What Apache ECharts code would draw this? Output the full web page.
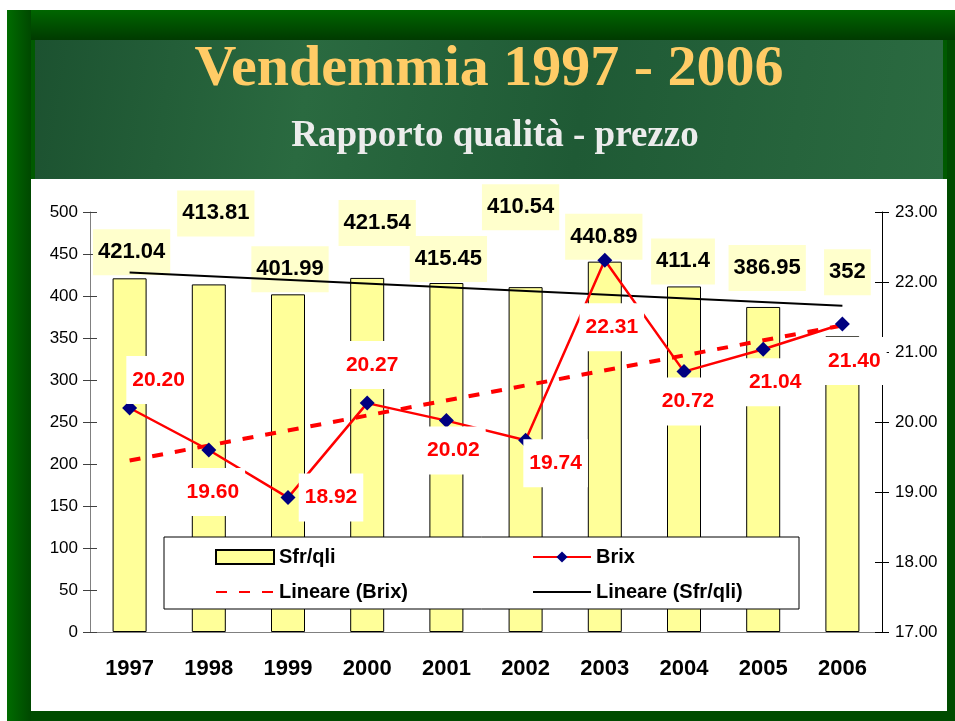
<!DOCTYPE html>
<html>
<head>
<meta charset="utf-8">
<script src="https://cdn.jsdelivr.net/npm/echarts@6/dist/echarts.min.js"></script>
<style>
  html, body { margin: 0; padding: 0; background: #fff; }
  #chart { width: 955px; height: 721px; }
</style>
</head>
<body>
<div id="chart"></div>
<script>
// data
var years = ['1997', '1998', '1999', '2000', '2001', '2002', '2003', '2004', '2005', '2006'];
var sfrQli = [421.04, 413.81, 401.99, 421.54, 415.45, 410.54, 440.89, 411.4, 386.95, 352];
var brix = [20.20, 19.60, 18.92, 20.27, 20.02, 19.74, 22.31, 20.72, 21.04, 21.40];
// trend lines (only end points)
var trendSfr = [428, null, null, null, null, null, null, null, null, 388.5];
var trendBrix = [19.45, null, null, null, null, null, null, null, null, 21.38];

// label placement (manual like in the original sheet)
var sfrLabelOffset = [[2, -3], [7, -48], [2, -2], [10, -32], [2, -1], [-5, -57], [-1, -2], [-1, -2], [4, -16], [5, -41]];
var brixLabelOffset = [[29, -28], [4, 42], [43, 0], [5, -38], [7, 30], [30, 23], [7, 67], [4, 30], [12, 33], [12, 37]];

var chart = echarts.init(document.getElementById('chart'), null, { renderer: 'canvas' });

var sfrData = sfrQli.map(function (v, i) {
  return { value: v, label: { offset: sfrLabelOffset[i] } };
});
var brixData = brix.map(function (v, i) {
  return { value: v, label: { offset: brixLabelOffset[i] } };
});

var font = 'Liberation Sans, Arial, sans-serif';
var legendText = { fontFamily: font, fontSize: 20, fontWeight: 'bold', color: '#000', lineHeight: 20 };

chart.setOption({
  animation: false,
  backgroundColor: '#ffffff',
  graphic: [
    // green frame
    { type: 'rect', z: -10, shape: { x: 7, y: 10, width: 948, height: 711 }, style: { fill: '#005a00' } },
    { type: 'rect', z: -10, shape: { x: 7, y: 10, width: 24, height: 711 },
      style: { fill: new echarts.graphic.LinearGradient(0, 0, 1, 0, [{ offset: 0, color: '#006c00' }, { offset: 1, color: '#004800' }]) } },
    { type: 'rect', z: -10, shape: { x: 31, y: 10, width: 924, height: 30 },
      style: { fill: new echarts.graphic.LinearGradient(0, 0, 0, 1, [{ offset: 0, color: '#006600' }, { offset: 1, color: '#003a00' }]) } },
    { type: 'rect', z: -10, shape: { x: 31, y: 711, width: 924, height: 10 }, style: { fill: '#004c00' } },
    { type: 'rect', z: -10, shape: { x: 947, y: 40, width: 8, height: 681 }, style: { fill: '#004c00' } },
    // marble header
    { type: 'rect', z: -9, shape: { x: 35, y: 40, width: 908, height: 139 },
      style: { fill: new echarts.graphic.LinearGradient(0, 0, 1, 1, [
        { offset: 0, color: '#1c5230' }, { offset: 0.3, color: '#2a6a40' },
        { offset: 0.6, color: '#1f5a35' }, { offset: 1, color: '#2b6b41' }]) } },
    // white chart area
    { type: 'rect', z: -9, shape: { x: 31, y: 179, width: 916, height: 532 }, style: { fill: '#ffffff' } },
    // titles
    { type: 'text', z: -8, x: 489, y: 70,
      style: { text: 'Vendemmia 1997 - 2006', fill: '#ffcc66', align: 'center', verticalAlign: 'middle',
        font: 'bold 58px "Liberation Serif", "Times New Roman", serif' } },
    { type: 'text', z: -8, x: 495, y: 136,
      style: { text: 'Rapporto qualità - prezzo', fill: '#ececec', align: 'center', verticalAlign: 'middle',
        font: 'bold 37px "Liberation Serif", "Times New Roman", serif' } },
    // legend box
    { type: 'rect', z: 3, shape: { x: 164, y: 537, width: 635, height: 72 },
      style: { fill: '#ffffff', stroke: '#000000', lineWidth: 1 } }
  ],
  legend: [
    {
      z: 5, orient: 'vertical', left: 215, top: 547, padding: 0, itemGap: 15,
      itemWidth: 58, itemHeight: 14,
      data: [
        { name: 'Sfr/qli', icon: 'rect' },
        { name: 'Lineare (Brix)', itemStyle: { opacity: 0 } }
      ],
      textStyle: legendText
    },
    {
      z: 5, orient: 'vertical', left: 532, top: 547, padding: 0, itemGap: 15,
      itemWidth: 58, itemHeight: 14,
      data: [
        'Brix',
        { name: 'Lineare (Sfr/qli)', itemStyle: { opacity: 0 } }
      ],
      textStyle: legendText
    }
  ],
  grid: { left: 90, right: 73, top: 212, bottom: 89, outerBoundsMode: 'none' },
  xAxis: [
    {
      type: 'category', data: years,
      axisLine: { lineStyle: { color: '#808080', width: 1 } },
      axisTick: { length: 7, lineStyle: { color: '#404040' } },
      axisLabel: { fontFamily: font, fontSize: 22, fontWeight: 'bold', color: '#000', margin: 26 }
    },
    {
      type: 'category', data: years, position: 'bottom',
      axisLine: { show: false },
      axisTick: { inside: true, length: 7, lineStyle: { color: '#404040' } },
      axisLabel: { show: false }
    }
  ],
  yAxis: [
    {
      type: 'value', min: 0, max: 500, interval: 50, position: 'left',
      splitLine: { show: false },
      axisLine: { show: true, lineStyle: { color: '#808080' } },
      axisTick: { show: true, length: 7, lineStyle: { color: '#404040' } },
      axisLabel: { fontFamily: font, fontSize: 17, color: '#000', margin: 12 }
    },
    {
      type: 'value', min: 17, max: 23, interval: 1, position: 'right',
      splitLine: { show: false },
      axisLine: { show: true, lineStyle: { color: '#000' } },
      axisTick: { show: true, length: 7, lineStyle: { color: '#000' } },
      axisLabel: { fontFamily: font, fontSize: 17, color: '#000', margin: 13,
        formatter: function (v) { return v.toFixed(2); } }
    },
    {
      type: 'value', min: 0, max: 500, interval: 50, position: 'left',
      splitLine: { show: false }, axisLine: { show: false },
      axisTick: { show: true, inside: true, length: 7, lineStyle: { color: '#404040' } },
      axisLabel: { show: false }
    },
    {
      type: 'value', min: 17, max: 23, interval: 1, position: 'right',
      splitLine: { show: false }, axisLine: { show: false },
      axisTick: { show: true, inside: true, length: 7, lineStyle: { color: '#000' } },
      axisLabel: { show: false }
    }
  ],
  series: [
    {
      name: 'Sfr/qli', type: 'bar', data: sfrData, barWidth: 34, z: 2,
      itemStyle: { color: '#ffff99', borderColor: '#000', borderWidth: 1 },
      label: {
        show: true, position: 'top', distance: 0,
        fontFamily: font, fontSize: 22, fontWeight: 'bold', color: '#000',
        backgroundColor: '#ffffcc', padding: [12, 5], lineHeight: 22
      }
    },
    {
      name: 'Lineare (Sfr/qli)', type: 'line', data: trendSfr, connectNulls: true,
      symbol: 'none', z: 3,
      lineStyle: { color: '#000', width: 2 }, itemStyle: { color: '#000' }
    },
    {
      name: 'Lineare (Brix)', type: 'line', yAxisIndex: 1, data: trendBrix, connectNulls: true,
      symbol: 'none', z: 3,
      lineStyle: { color: '#ff0000', width: 4, type: [11, 12] }, itemStyle: { color: '#ff0000' }
    },
    {
      name: 'Brix', type: 'line', yAxisIndex: 1, data: brixData, z: 4,
      symbol: 'diamond', symbolSize: 15,
      lineStyle: { color: '#ff0000', width: 2.5 },
      itemStyle: { color: '#000080' },
      label: {
        show: true, position: 'inside',
        formatter: function (p) { return p.value.toFixed(2); },
        fontFamily: font, fontSize: 21, fontWeight: 'bold', color: '#ff0000',
        backgroundColor: '#ffffff', padding: [12, 6], lineHeight: 24
      }
    }
  ]
});
</script>
</body>
</html>
